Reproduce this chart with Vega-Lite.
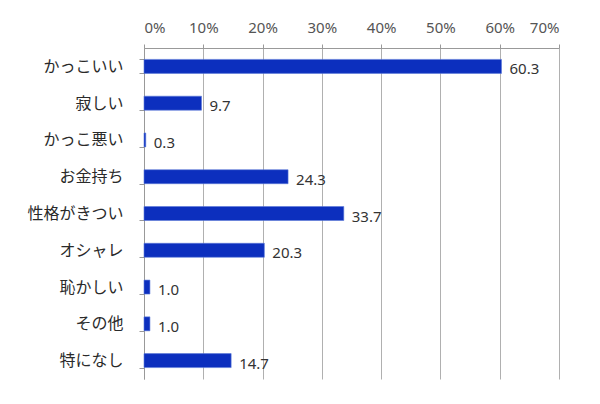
{
  "$schema": "https://vega.github.io/schema/vega-lite/v6.json",
  "width": 415,
  "height": 331,
  "autosize": {"type": "none"},
  "padding": {"left": 144, "top": 48, "right": 41, "bottom": 25},
  "background": "#ffffff",
  "config": {
    "view": {"stroke": null},
    "font": "Noto Sans CJK JP"
  },
  "data": {
    "values": [
      {"item": "かっこいい", "pct": 60.3},
      {"item": "寂しい", "pct": 9.7},
      {"item": "かっこ悪い", "pct": 0.3},
      {"item": "お金持ち", "pct": 24.3},
      {"item": "性格がきつい", "pct": 33.7},
      {"item": "オシャレ", "pct": 20.3},
      {"item": "恥かしい", "pct": 1.0},
      {"item": "その他", "pct": 1.0},
      {"item": "特になし", "pct": 14.7}
    ]
  },
  "encoding": {
    "y": {
      "field": "item",
      "type": "nominal",
      "sort": null,
      "scale": {"paddingInner": 0.62, "paddingOuter": 0.31},
      "axis": {
        "title": null,
        "tickBand": "extent",
        "domainColor": "#999999",
        "tickColor": "#999999",
        "tickSize": 5,
        "labelPadding": 16,
        "labelFontSize": 16,
        "labelColor": "#2a2a2a",
        "labelFont": "Noto Sans CJK JP"
      }
    },
    "x": {
      "field": "pct",
      "type": "quantitative",
      "scale": {"domain": [0, 70], "nice": false},
      "axis": {
        "orient": "top",
        "title": null,
        "values": [0, 10, 20, 30, 40, 50, 60, 70],
        "labelExpr": "datum.value + '%'",
        "grid": true,
        "gridColor": "#b0b0b0",
        "domainColor": "#999999",
        "tickColor": "#999999",
        "tickSize": 4,
        "labelPadding": 9,
        "labelFontSize": 15,
        "labelColor": "#555555",
        "labelFont": "Noto Sans"
      }
    }
  },
  "layer": [
    {
      "mark": {"type": "bar", "color": "#0c2fbe", "stroke": "#5a78d8", "strokeWidth": 0.6}
    },
    {
      "mark": {"type": "text", "align": "left", "baseline": "middle", "dx": 8, "dy": 3, "fontSize": 15, "color": "#333333", "font": "Noto Sans"},
      "encoding": {
        "text": {"field": "pct", "type": "quantitative", "format": ".1f"}
      }
    }
  ]
}
